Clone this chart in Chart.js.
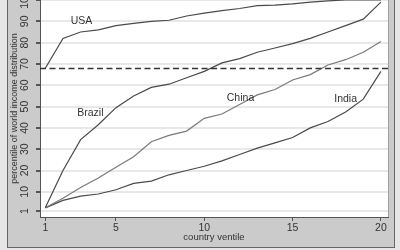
<!DOCTYPE html>
<html lang="en">
<head>
  <meta charset="UTF-8" />
  <title>Country ventiles in the world income distribution</title>
  <script src="https://cdn.jsdelivr.net/npm/chart.js"></script>
  <style>
    body {
      margin: 0;
      background: #e6e6e6;
    }
    canvas {
      display: block;
    }
  </style>
</head>
<body>
  <canvas id="grafica" width="400" height="250"></canvas>

  <script>
    // country ventiles and their percentile in the world income distribution
    const ventiles = [1, 2, 3, 4, 5, 6, 7, 8, 9, 10, 11, 12, 13, 14, 15, 16, 17, 18, 19, 20];
    const usa    = [68, 82, 85, 86, 88, 89, 90, 90.5, 92.5, 93.8, 95, 96, 97.4, 97.6, 98.2, 99, 99.6, 100, 100, 100];
    const brazil = [2.5, 20, 34.5, 41.5, 49.5, 55, 59, 60.5, 63.5, 66.5, 70.5, 72.5, 75.5, 77.5, 79.5, 82, 85, 88, 91, 99];
    const china  = [2.5, 7, 12, 16.5, 21.5, 26.5, 33.5, 36.5, 38.5, 44.5, 46.5, 51, 55.5, 58, 62.5, 65, 69.5, 72, 75.5, 80.5];
    const india  = [2.5, 6, 8, 9, 11, 14, 15, 18, 20, 22, 24.5, 27.5, 30.5, 33, 35.5, 40, 43, 47.5, 53.5, 66.5];

    const yTicks = [1, 10, 20, 30, 40, 50, 60, 70, 80, 90, 100];
    const xTicks = [1, 5, 10, 15, 20];
    const cutoff = 68;

    // where the country names sit, in data units
    const countryNames = ['USA', 'Brazil', 'China', 'India'];
    const nameX = [3.05, 3.55, 12.05, 18.0];
    const nameY = [89.9, 46.9, 53.9, 53.4];

    const textColor = '#333333';
    const fontFamily = '"Liberation Sans", Arial, sans-serif';

    function serie(values) {
      return ventiles.map((v, i) => ({ x: v, y: values[i] }));
    }

    const decoracion = {
      id: 'decoracion',
      beforeDraw(chart) {
        const ctx = chart.ctx;
        const a = chart.chartArea;
        ctx.save();
        ctx.fillStyle = '#e6e6e6';
        ctx.fillRect(0, 0, chart.width, chart.height);
        ctx.fillStyle = '#cbcbcb';
        ctx.fillRect(7.5, -5, 387, 252.5);
        ctx.strokeStyle = '#666666';
        ctx.lineWidth = 1;
        ctx.strokeRect(7.5, -5, 387, 252.5);
        ctx.fillStyle = '#ffffff';
        ctx.fillRect(a.left, a.top, a.right - a.left, a.bottom - a.top);
        ctx.restore();
      },
      afterDatasetsDraw(chart) {
        const ctx = chart.ctx;
        const a = chart.chartArea;
        const xs = chart.scales.x;
        const ys = chart.scales.y;
        ctx.save();
        // reference line
        const py = Math.round(ys.getPixelForValue(cutoff)) + 0.5;
        ctx.strokeStyle = '#333333';
        ctx.lineWidth = 1.5;
        ctx.setLineDash([6, 3.5]);
        ctx.beginPath();
        ctx.moveTo(a.left, py);
        ctx.lineTo(a.right, py);
        ctx.stroke();
        ctx.setLineDash([]);
        // right edge of the plot region
        ctx.strokeStyle = '#a0a0a0';
        ctx.lineWidth = 1;
        ctx.beginPath();
        ctx.moveTo(a.right + 0.5, a.top);
        ctx.lineTo(a.right + 0.5, a.bottom);
        ctx.stroke();
        // country names
        ctx.fillStyle = textColor;
        ctx.font = '10.5px ' + fontFamily;
        ctx.textAlign = 'center';
        ctx.textBaseline = 'middle';
        countryNames.forEach((n, i) => {
          ctx.fillText(n, xs.getPixelForValue(nameX[i]), ys.getPixelForValue(nameY[i]));
        });
        ctx.restore();
      },
      afterDraw(chart) {
        const ctx = chart.ctx;
        const a = chart.chartArea;
        const ys = chart.scales.y;
        ctx.save();
        ctx.fillStyle = textColor;
        ctx.textAlign = 'center';
        ctx.textBaseline = 'middle';
        // vertical y tick labels, Stata style
        ctx.font = '10.5px ' + fontFamily;
        yTicks.forEach(v => {
          ctx.save();
          ctx.translate(25, ys.getPixelForValue(v));
          ctx.rotate(-Math.PI / 2);
          ctx.fillText(String(v), 0, 0);
          ctx.restore();
        });
        // axis titles
        ctx.font = '9px ' + fontFamily;
        ctx.save();
        ctx.translate(15, (a.top + a.bottom) / 2);
        ctx.rotate(-Math.PI / 2);
        ctx.fillText('percentile of world income distribution', 0, 0);
        ctx.restore();
        ctx.font = '9.5px ' + fontFamily;
        ctx.fillText('country ventile', (a.left + a.right) / 2, 237);
        ctx.restore();
      }
    };

    const linea = {
      borderWidth: 1.2,
      pointRadius: 0,
      tension: 0,
      fill: false
    };

    const config = {
      type: 'line',
      data: {
        datasets: [
          { ...linea, label: 'USA', data: serie(usa), borderColor: '#4a4a4a' },
          { ...linea, label: 'Brazil', data: serie(brazil), borderColor: '#4a4a4a' },
          { ...linea, label: 'China', data: serie(china), borderColor: '#7a7a7a' },
          { ...linea, label: 'India', data: serie(india), borderColor: '#4a4a4a' }
        ]
      },
      options: {
        responsive: false,
        animation: false,
        layout: { padding: { left: 0, right: 12, top: 0, bottom: 0 } },
        plugins: {
          legend: { display: false },
          tooltip: { enabled: false }
        },
        scales: {
          x: {
            type: 'linear',
            min: 0.7,
            max: 20.4,
            afterBuildTicks: s => { s.ticks = xTicks.map(v => ({ value: v })); },
            afterFit: s => { s.height = 33; },
            grid: { drawOnChartArea: false, drawTicks: true, tickLength: 4, tickColor: '#555555' },
            border: { color: '#555555', width: 1 },
            ticks: {
              font: { family: fontFamily, size: 10.5 },
              color: textColor,
              padding: 1,
              maxRotation: 0,
              autoSkip: false
            }
          },
          y: {
            min: -1.8,
            max: 100,
            afterBuildTicks: s => { s.ticks = yTicks.map(v => ({ value: v })); },
            afterFit: s => { s.width = 40; },
            grid: { color: '#e8e8e8', lineWidth: 2, drawTicks: true, tickLength: 4, tickColor: '#555555' },
            border: { color: '#555555', width: 1 },
            ticks: { display: false }
          }
        }
      },
      plugins: [decoracion]
    };

    const ctx = document.getElementById('grafica').getContext('2d');
    window.miGrafica = new Chart(ctx, config);
  </script>
</body>
</html>
